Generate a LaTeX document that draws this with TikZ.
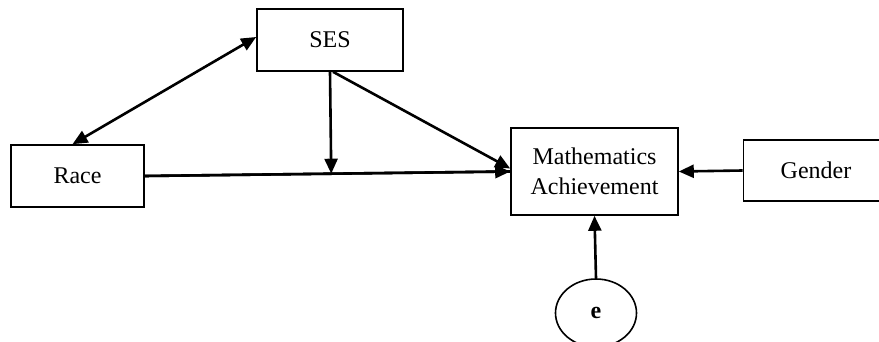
\documentclass[tikz,border=0pt]{standalone}
\usepackage{fontspec}
\setmainfont{Liberation Serif}
\usetikzlibrary{arrows.meta,calc,shapes.geometric}
\begin{document}
\begin{tikzpicture}[x=1pt,y=-1pt,
  font=\fontsize{24}{30}\selectfont,
  box/.style={draw, line width=1.6pt, inner sep=0pt, align=center},
  conn/.style={line width=2.6pt, -{Triangle[length=15pt,width=13pt]}},
  dconn/.style={line width=2.6pt, {Triangle[length=15pt,width=13pt]}-{Triangle[length=15pt,width=13pt]}}]
\useasboundingbox (0,0) rectangle (879,342);
\node[box, minimum width=146pt, minimum height=62pt] (ses) at (330,40) {SES};
\node[box, minimum width=133pt, minimum height=62pt] (race) at (77.5,176) {Race};
\node[box, minimum width=167pt, minimum height=87pt] (math) at (594.5,171.5) {Mathematics\\Achievement};
\node[box, minimum width=145pt, minimum height=61pt] (gender) at (816,170.5) {Gender};
\node[draw, ellipse, line width=1.6pt, minimum width=81pt, minimum height=68pt, inner sep=0pt, font=\fontsize{24}{30}\selectfont\bfseries] (e) at (596,313) {e};
\draw[dconn] ([xshift=-5pt]race.north) -- ([yshift=3pt]ses.west);
\draw[line width=2.6pt] (race.east) -- (math.west);
\coordinate (j) at ($(race.east)!(ses.south)!(math.west)$);
\draw[conn] (ses.south) -- (j);
\draw[conn] ([xshift=3pt]ses.south) -- ([yshift=3pt]math.west);
\draw[conn] (race.east) -- (math.west);
\draw[conn] (gender.west) -- (math.east);
\draw[conn] (e.north) -- (math.south);
\end{tikzpicture}
\end{document}
